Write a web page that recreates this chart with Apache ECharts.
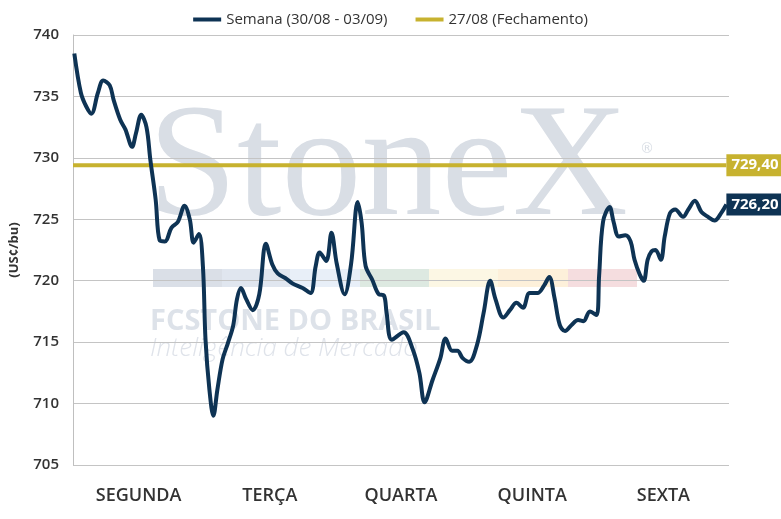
<!DOCTYPE html>
<html style="height: 100%">
<head>
<meta charset="utf-8">
</head>
<body style="height: 100%; margin: 0; background: #fff">
<div id="container" style="width: 781px; height: 519px"></div>
<script src="https://cdn.jsdelivr.net/npm/echarts@6/dist/echarts.min.js"></script>
<script type="text/javascript">
// dias da semana (eixo x) e posicoes intradiarias em fracao de dia
var dias = ['SEGUNDA', 'TERÇA', 'QUARTA', 'QUINTA', 'SEXTA'];
var tempo = [
  0.01, 0.06, 0.10, 0.14, 0.19, 0.23, 0.28, 0.31, 0.36, 0.40,
  0.45, 0.48, 0.52, 0.56, 0.59, 0.63, 0.66, 0.70, 0.75, 0.80,
  0.85, 0.89, 0.92, 0.96, 0.99, 1.01, 1.04, 1.07, 1.10, 1.14,
  1.18, 1.22, 1.25, 1.28, 1.32, 1.37, 1.42, 1.47, 1.52, 1.56,
  1.62, 1.67, 1.75, 1.81, 1.85, 1.88, 1.93, 1.97, 2.01, 2.07,
  2.12, 2.17, 2.20, 2.23, 2.28, 2.33, 2.37, 2.39, 2.43, 2.52,
  2.59, 2.64, 2.68, 2.74, 2.80, 2.84, 2.89, 2.93, 2.97, 3.02,
  3.08, 3.13, 3.18, 3.22, 3.28, 3.33, 3.38, 3.43, 3.48, 3.54,
  3.59, 3.63, 3.67, 3.71, 3.75, 3.80, 3.85, 3.89, 3.94, 3.99,
  4.01, 4.04, 4.09, 4.12, 4.16, 4.21, 4.25, 4.28, 4.32, 4.35,
  4.38, 4.41, 4.44, 4.48, 4.51, 4.55, 4.59, 4.65, 4.69, 4.74,
  4.79, 4.84, 4.89, 4.94, 4.98
];
var semana = [
  738.5, 735.3, 734.2, 733.6, 735.3, 736.3, 735.9, 734.7, 733.1, 732.3,
  730.9, 732.0, 733.5, 732.5, 729.8, 726.6, 723.3, 723.2, 724.3, 724.8,
  726.1, 725.0, 723.1, 723.8, 721.2, 715.2, 711.1, 709.0, 711.1, 713.6,
  714.9, 716.3, 718.5, 719.4, 718.5, 717.6, 718.9, 723.0, 721.3, 720.6,
  720.2, 719.8, 719.4, 719.0, 721.2, 722.3, 721.6, 723.9, 721.4, 718.9,
  721.4, 726.4, 724.7, 721.2, 720.1, 718.9, 718.8, 717.4, 715.2, 715.8,
  714.4, 712.5, 710.1, 711.9, 713.7, 715.3, 714.3, 714.3, 713.7, 713.4,
  714.8, 717.4, 720.0, 718.5, 717.0, 717.6, 718.2, 717.8, 719.0, 719.0,
  719.6, 720.3, 718.6, 716.4, 715.9, 716.4, 716.8, 716.7, 717.5, 717.2,
  720.4, 724.8, 726.0, 724.8, 723.6, 723.7, 723.2, 721.7, 720.5, 720.0,
  721.7, 722.4, 722.5, 721.7, 723.6, 725.5, 725.8, 725.2, 725.8, 726.5,
  725.6, 725.2, 724.9, 725.5, 726.2
];
var fechamento = 729.40;
var yTicks = [705, 710, 715, 720, 725, 730, 735, 740];

var azul = '#0e3354';
var ouro = '#c7b22f';
var fonte = 'Open Sans';

function fmt(v) {
    return v.toFixed(2).replace('.', ',');
}

var serieSemana = tempo.map(function (t, i) { return [t, semana[i]]; });
var serieFech = [[0, fechamento], [tempo[tempo.length - 1], fechamento]];

var chart = echarts.init(document.getElementById('container'));
var option = {
    animation: false,
    textStyle: { fontFamily: fonte },
    legend: {
        top: 7,
        left: 'center',
        itemWidth: 28,
        itemHeight: 4,
        itemGap: 28,
        icon: 'rect',
        textStyle: { fontSize: 15, color: '#333', fontFamily: fonte },
        data: ['Semana (30/08 - 03/09)', '27/08 (Fechamento)']
    },
    grid: { left: 72, right: 52, top: 35, bottom: 54 },
    graphic: [
        { type: 'text', left: 148, top: 92, z: -10,
          style: { text: 'StoneX', font: '160px "Liberation Serif"', fill: '#d9dee5' } },
        { type: 'text', left: 640, top: 142, z: -10,
          style: { text: '®', font: '14px "DejaVu Sans"', fill: '#d9dee5' } },
        { type: 'rect', shape: { x: 153, y: 269, width: 69, height: 18 }, z: -10, style: { fill: '#dadfe7' } },
        { type: 'rect', shape: { x: 222, y: 269, width: 68, height: 18 }, z: -10, style: { fill: '#e0e6ef' } },
        { type: 'rect', shape: { x: 290, y: 269, width: 70, height: 18 }, z: -10, style: { fill: '#e8eff8' } },
        { type: 'rect', shape: { x: 360, y: 269, width: 69, height: 18 }, z: -10, style: { fill: '#dde9e1' } },
        { type: 'rect', shape: { x: 429, y: 269, width: 69, height: 18 }, z: -10, style: { fill: '#fcf7e4' } },
        { type: 'rect', shape: { x: 498, y: 269, width: 70, height: 18 }, z: -10, style: { fill: '#fdf0da' } },
        { type: 'rect', shape: { x: 568, y: 269, width: 69, height: 18 }, z: -10, style: { fill: '#f5dddf' } },
        { type: 'text', left: 150, top: 307, z: -10,
          style: { text: 'FCSTONE DO BRASIL', font: 'bold 29px "Open Sans"', fill: '#dde2e9' } },
        { type: 'text', left: 150, top: 336, z: -10,
          style: { text: 'Inteligência de Mercado', font: 'italic 300 26px "Open Sans"', fill: '#dfe3ea' } }
    ],
    xAxis: [
        { type: 'value', min: 0, max: 5, show: false },
        {
            type: 'category',
            data: dias,
            position: 'bottom',
            axisLine: { show: false },
            axisTick: { show: false },
            axisLabel: { fontSize: 18, color: '#333', fontWeight: 600, margin: 22, fontFamily: fonte }
        }
    ],
    yAxis: {
        type: 'value',
        min: yTicks[0],
        max: yTicks[yTicks.length - 1],
        interval: 5,
        name: '(US¢/bu)',
        nameLocation: 'middle',
        nameGap: 52,
        nameTextStyle: { fontSize: 13, fontWeight: 'bold', color: '#333', fontFamily: fonte },
        axisLine: { show: true, lineStyle: { color: '#bfbfbf', width: 1 } },
        axisTick: { show: false },
        axisLabel: { fontSize: 15, color: '#333', fontWeight: 600, margin: 14, fontFamily: fonte },
        splitLine: { lineStyle: { color: '#c4c4c4', width: 1 } }
    },
    series: [
        {
            name: '27/08 (Fechamento)',
            type: 'line',
            xAxisIndex: 0,
            data: serieFech,
            symbol: 'none',
            color: ouro,
            lineStyle: { width: 4, color: ouro },
            endLabel: {
                show: true,
                distance: 0,
                formatter: function () { return fmt(fechamento); },
                backgroundColor: ouro,
                color: '#fff',
                fontSize: 15,
                fontWeight: 'bold',
                padding: [4, 5, 3, 5],
                fontFamily: fonte
            },
            z: 3
        },
        {
            name: 'Semana (30/08 - 03/09)',
            type: 'line',
            xAxisIndex: 0,
            data: serieSemana,
            smooth: 0.35,
            symbol: 'none',
            color: azul,
            lineStyle: { width: 4, color: azul },
            endLabel: {
                show: true,
                distance: 0,
                formatter: function () { return fmt(semana[semana.length - 1]); },
                backgroundColor: azul,
                color: '#fff',
                fontSize: 15,
                fontWeight: 'bold',
                padding: [4, 5, 3, 5],
                fontFamily: fonte
            },
            z: 4
        }
    ]
};
chart.setOption(option);
</script>
</body>
</html>
